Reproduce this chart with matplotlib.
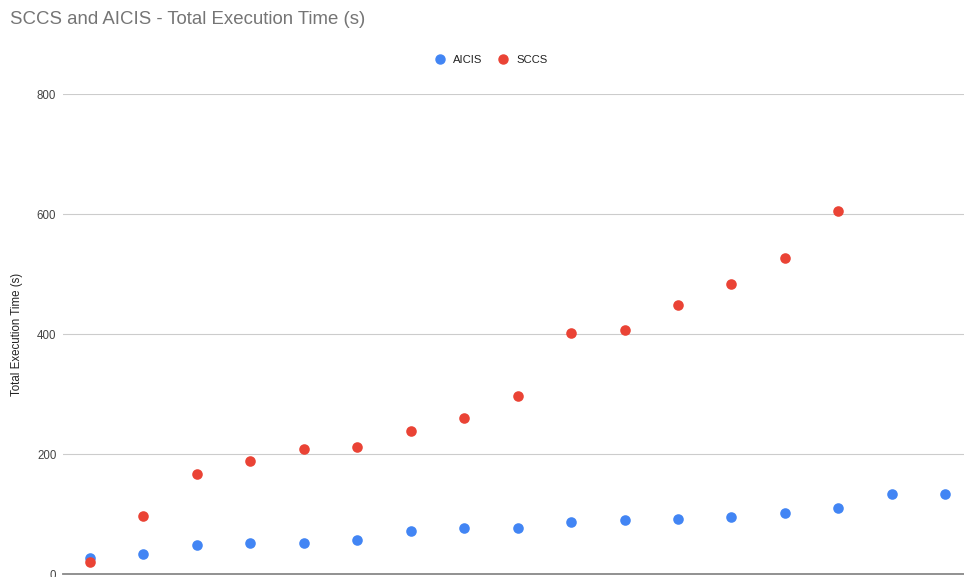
import matplotlib.pyplot as plt
from matplotlib.lines import Line2D

plt.rcParams['font.family'] = ['Liberation Sans', 'DejaVu Sans']

# run index and total execution time in seconds
runs_aicis = list(range(1, 18))
aicis = [28, 34, 49, 53, 53, 58, 72, 77, 78, 87, 91, 93, 96, 102, 111, 133, 133]
runs_sccs = list(range(1, 16))
sccs = [21, 98, 167, 189, 209, 212, 239, 260, 297, 402, 407, 449, 484, 527, 605]

blue = '#4285F4'
red = '#EA4335'

fig = plt.figure(figsize=(9.64, 5.77), dpi=100)
ax = fig.add_axes([63.3 / 964, 2.7 / 577, 908.7 / 964, 480 / 577])

ax.scatter(runs_aicis, aicis, s=58, color=blue, zorder=3, linewidths=0)
ax.scatter(runs_sccs, sccs, s=58, color=red, zorder=4, linewidths=0)

ax.set_xlim(0.5, 17.5)
ax.set_ylim(0, 800)
ax.set_yticks([0, 200, 400, 600, 800])
ax.set_xticks([])
ax.grid(axis='y', color='#cccccc', linewidth=0.8)
ax.set_axisbelow(True)
for side in ['top', 'right', 'left']:
    ax.spines[side].set_visible(False)
ax.spines['bottom'].set_color('#888888')
ax.spines['bottom'].set_linewidth(1.3)
ax.spines['bottom'].set_zorder(5)
ax.tick_params(axis='y', length=0, pad=5, labelsize=8.3, labelcolor='#444444')

ax.set_ylabel('Total Execution Time (s)', fontsize=8.3, color='#222222')
ax.yaxis.set_label_coords(-0.044, 0.5)

fig.text(10 / 964, 1 - 20 / 577, 'SCCS and AICIS - Total Execution Time (s)',
         fontsize=13.4, color='#757575', va='center', ha='left')

handles = [
    Line2D([], [], marker='o', linestyle='', color=blue, markersize=6.5, label='AICIS'),
    Line2D([], [], marker='o', linestyle='', color=red, markersize=6.5, label='SCCS'),
]
leg = fig.legend(handles=handles, loc='center', ncol=2, frameon=False,
                 bbox_to_anchor=(491 / 964, 1 - 60 / 577), fontsize=8.1,
                 handletextpad=0.7, columnspacing=1.3, handlelength=1.0)
for t in leg.get_texts():
    t.set_color('#222222')

fig.savefig('out.png', dpi=100)
